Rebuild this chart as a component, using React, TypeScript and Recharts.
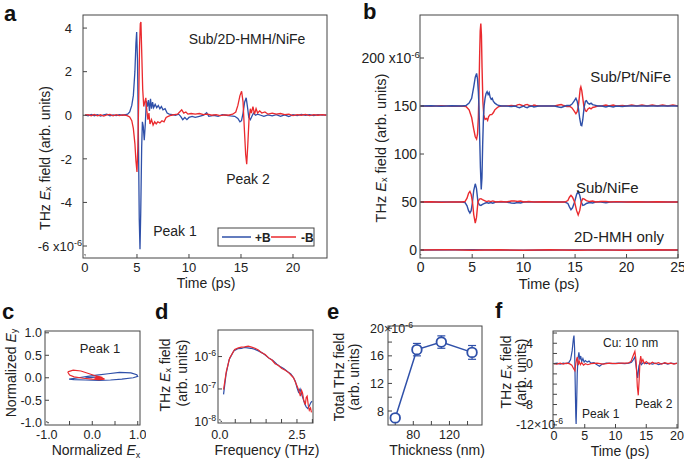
import React from "react";
import { LineChart, Line, XAxis, YAxis, ErrorBar } from "recharts";

const FONT = "'Liberation Sans', Arial, Helvetica, sans-serif";
const BLUE = "#2f50a9";
const RED = "#ea2a2e";
const INK = "#222";
const AX = "#444";

// ---------- panel a : Sub/2D-HMH/NiFe, [time ps, field 1e-6] ----------
const aBlue = [
  [0, 0.02], [0.3, -0.03], [0.6, 0.04], [0.9, -0.02], [1.2, 0.03], [1.5, -0.04], [1.8, 0.02], [2.1, 0.05],
  [2.4, -0.03], [2.7, 0.02], [3.0, -0.02], [3.3, 0.03], [3.6, 0], [3.9, 0.03], [4.1, 0.05], [4.3, 0.15],
  [4.5, 0.45], [4.65, 0.9], [4.8, 2.0], [4.9, 3.3], [4.97, 3.82], [5.05, 2.5], [5.15, -1.5], [5.22, -4.8],
  [5.29, -6.15], [5.36, -4.5], [5.45, -1.5], [5.52, -0.3], [5.6, -0.5], [5.7, -1.15], [5.8, -0.4], [5.9, 0.65],
  [6.0, 0.4], [6.1, 0.7], [6.2, 0.2], [6.3, 0.75], [6.4, 0.3], [6.5, 0.6], [6.6, 0.35], [6.75, 0.5],
  [6.9, 0.35], [7.05, 0.45], [7.2, 0.3], [7.35, 0.4], [7.5, 0.25], [7.7, 0.3], [7.9, 0.1], [8.1, 0.05],
  [8.4, 0.03], [8.7, 0], [9.0, 0.05], [9.2, -0.05], [9.4, -0.2], [9.6, -0.1], [9.8, -0.2], [10.0, -0.1],
  [10.3, -0.05], [10.6, -0.1], [11.0, -0.05], [11.4, 0], [11.7, 0.12], [11.9, -0.05], [12.4, 0], [12.8, -0.05],
  [13.2, 0.03], [13.6, 0], [14.0, -0.03], [14.4, -0.05], [14.7, -0.15], [14.9, -0.3], [15.05, -0.25], [15.2, 0.1],
  [15.35, 0.6], [15.5, 0.8], [15.62, 0.4], [15.75, -0.1], [15.9, -0.2], [16.05, -0.05], [16.2, 0.1], [16.4, 0],
  [16.6, 0.05], [16.9, 0], [17.2, -0.05], [17.6, 0.02], [18.0, -0.03], [18.4, 0.03], [18.8, -0.05], [19.2, 0.02],
  [19.6, -0.06], [20.0, 0.03], [20.4, -0.02], [20.8, 0.04], [21.2, 0], [21.6, 0.03], [22.0, -0.02], [22.4, 0.03],
  [22.8, 0.01], [23.2, 0.02],
];
const aRed = [
  [0, 0], [0.3, 0.03], [0.6, -0.02], [0.9, 0.04], [1.2, -0.03], [1.5, 0.02], [1.8, -0.04], [2.1, 0.02],
  [2.4, 0.04], [2.7, -0.03], [3.0, 0.03], [3.3, -0.02], [3.6, 0.02], [3.9, 0], [4.1, -0.03], [4.3, -0.08],
  [4.5, -0.25], [4.65, -0.6], [4.8, -1.3], [4.9, -2.1], [5.0, -2.6], [5.08, -1.5], [5.17, 0.8], [5.25, 3.2],
  [5.32, 4.2], [5.38, 4.28], [5.45, 3.0], [5.55, 1.2], [5.65, 0.4], [5.75, 0.6], [5.85, 0.8], [5.95, 0.2],
  [6.05, -0.2], [6.15, 0.1], [6.25, -0.4], [6.4, -0.2], [6.55, -0.45], [6.7, -0.3], [6.85, -0.4], [7.0, -0.3],
  [7.2, -0.35], [7.4, -0.25], [7.6, -0.3], [7.8, -0.1], [8.0, -0.05], [8.3, 0], [8.6, 0.03], [8.9, 0.05],
  [9.1, 0.15], [9.3, 0.25], [9.5, 0.1], [9.7, 0.15], [9.9, 0.05], [10.2, 0.08], [10.6, 0.05], [11.0, 0.08],
  [11.4, 0.03], [11.8, 0.05], [12.2, 0], [12.6, 0.03], [13.0, -0.02], [13.4, 0.02], [13.8, 0], [14.2, 0.05],
  [14.5, 0.15], [14.7, 0.45], [14.9, 0.9], [15.06, 1.1], [15.2, 0.6], [15.32, -0.6], [15.45, -1.8], [15.55, -2.25],
  [15.65, -1.4], [15.77, -0.2], [15.9, 0.3], [16.0, 0.1], [16.15, 0.4], [16.3, 0.05], [16.45, 0.3], [16.6, 0.1],
  [16.8, 0.2], [17.0, 0.1], [17.3, 0.15], [17.6, 0.05], [18.0, 0.1], [18.4, 0.05], [18.8, 0.08], [19.2, 0.03],
  [19.6, 0.05], [20.0, -0.02], [20.4, 0.03], [20.8, 0], [21.2, 0.04], [21.6, -0.02], [22.0, 0.03], [22.4, 0],
  [22.8, 0.03], [23.2, 0],
];

// ---------- panel b : offset traces ----------
const bPtBlue = [
  [0, 150], [1, 150.3], [2, 149.8], [3, 150.2], [4, 150], [4.4, 150.5], [4.7, 153], [4.95, 158], [5.15, 170],
  [5.3, 180], [5.43, 184], [5.52, 178], [5.6, 165], [5.66, 150], [5.72, 122], [5.8, 86], [5.88, 63], [5.95, 75],
  [6.02, 110], [6.1, 140], [6.17, 151], [6.25, 158], [6.35, 163], [6.45, 165], [6.55, 162], [6.65, 164],
  [6.75, 159], [6.85, 157], [6.95, 158], [7.05, 155], [7.2, 153], [7.4, 151.5], [7.6, 150.5], [7.85, 150],
  [8.3, 150], [8.8, 149.5], [9.2, 150], [9.4, 148.8], [9.6, 148.3], [9.8, 149.2], [10.0, 150], [10.15, 148.8],
  [10.35, 148.3], [10.55, 149.5], [10.8, 150], [11.0, 149], [11.2, 149.5], [11.5, 150], [12.2, 150], [13.0, 150],
  [13.4, 149], [13.65, 148.5], [13.9, 149.5], [14.2, 150.5], [14.5, 150.5], [14.7, 152], [14.9, 155], [15.08, 158],
  [15.2, 155], [15.32, 148], [15.45, 137], [15.57, 130], [15.65, 129.5], [15.75, 136], [15.87, 148], [16.0, 155],
  [16.1, 155.5], [16.25, 153], [16.4, 152], [16.55, 153], [16.7, 151.5], [16.9, 151], [17.2, 150], [17.6, 150],
  [18.0, 149], [18.3, 150], [18.7, 149], [19.0, 150], [19.6, 149.5], [20.0, 150], [21, 150], [22, 150],
  [23, 150], [24, 150], [25, 150],
];
const bPtRed = [
  [0, 150], [1, 149.8], [2, 150.2], [3, 149.8], [4, 150], [4.4, 149.5], [4.7, 146], [4.95, 138], [5.15, 126],
  [5.3, 118], [5.43, 115.6], [5.52, 121], [5.6, 138], [5.66, 165], [5.72, 200], [5.78, 228], [5.84, 236],
  [5.9, 224], [5.96, 190], [6.04, 155], [6.12, 141], [6.25, 136], [6.4, 137], [6.5, 135], [6.6, 139],
  [6.75, 141], [6.9, 141], [7.05, 143], [7.2, 146], [7.4, 148], [7.6, 149.5], [7.85, 150], [8.3, 150],
  [8.8, 150.5], [9.2, 150], [9.4, 151.2], [9.6, 151.7], [9.8, 150.8], [10.0, 150], [10.15, 151.2], [10.35, 151.7],
  [10.55, 150.5], [10.8, 150], [11.0, 151], [11.2, 150.5], [11.5, 150], [12.2, 150], [13.0, 150], [13.4, 151],
  [13.65, 151.5], [13.9, 150.5], [14.2, 149.5], [14.5, 149.5], [14.7, 148], [14.9, 145], [15.08, 142], [15.2, 144],
  [15.32, 150], [15.42, 160], [15.5, 168], [15.56, 170], [15.65, 166], [15.75, 158], [15.85, 150], [16.0, 145],
  [16.1, 144.5], [16.25, 147], [16.4, 148], [16.55, 147], [16.7, 148.5], [16.9, 149], [17.2, 150], [17.6, 150],
  [18.0, 151], [18.3, 150], [18.7, 151], [19.0, 150], [19.6, 150.5], [20.0, 150], [20.5, 151], [21, 150],
  [21.5, 151], [22, 150], [22.5, 151], [23, 150], [23.5, 151], [24, 150], [24.5, 151], [25, 150],
];
const bNiBlue = [
  [0, 50], [2, 50], [4, 50], [4.3, 49.5], [4.5, 46], [4.65, 41], [4.78, 38.5], [4.9, 41], [5.03, 50],
  [5.15, 62], [5.3, 69], [5.42, 64], [5.56, 50], [5.7, 47], [5.85, 46.5], [6.0, 47.5], [6.2, 48.5], [6.4, 49.5],
  [6.6, 48.8], [6.8, 49.5], [7.0, 48.8], [7.3, 50], [7.8, 50], [8.3, 50], [8.8, 49], [9.1, 48.8], [9.4, 49.5],
  [9.7, 49], [10.0, 50], [11, 50], [12, 50], [13, 50], [14, 50], [14.3, 48.5], [14.45, 45], [14.6, 42],
  [14.75, 44], [14.95, 50], [15.15, 58], [15.3, 61], [15.45, 57], [15.6, 50], [15.75, 46.5], [15.9, 47],
  [16.1, 48.5], [16.4, 49.5], [16.7, 49], [17, 50], [17.5, 50], [18.0, 49.3], [18.4, 50], [19, 50], [20, 50],
  [21, 50], [22, 50], [23, 50], [24, 50], [25, 50],
];
const bNiRed = [
  [0, 50], [1, 50.3], [2, 49.8], [3, 50.2], [4, 50], [4.3, 50.5], [4.5, 54], [4.65, 59], [4.78, 61], [4.9, 58],
  [5.03, 50], [5.15, 37], [5.3, 28], [5.42, 34], [5.56, 50], [5.7, 53], [5.85, 53.5], [6.0, 52.5], [6.2, 51.5],
  [6.4, 50.5], [6.6, 51.2], [6.8, 50.5], [7.0, 51.2], [7.3, 50], [7.8, 50.5], [8.3, 50], [8.8, 51], [9.1, 51.2],
  [9.4, 50.5], [9.7, 51], [10.0, 50], [10.5, 50.5], [11, 50], [12, 50.3], [13, 50], [14, 50], [14.3, 51.5],
  [14.45, 55], [14.6, 57], [14.75, 55], [14.95, 50], [15.15, 41], [15.3, 36.5], [15.45, 41], [15.6, 50],
  [15.75, 53.5], [15.9, 53], [16.1, 51.5], [16.4, 50.5], [16.7, 51], [17, 50], [17.5, 50.5], [18.0, 50.7],
  [18.4, 50], [19, 50.4], [20, 50], [21, 50.3], [22, 50], [23, 50.3], [24, 50], [25, 50],
];
const b2dBlue = [[0, 0], [5, 0.3], [10, -0.2], [15, 0.2], [20, -0.1], [25, 0]];
const b2dRed = [
  [0, 0], [2.5, 0.4], [5, -0.3], [7.5, 0.3], [10, -0.2], [12.5, 0.3], [15, -0.3], [17.5, 0.2], [20, -0.2],
  [22.5, 0.3], [25, 0],
];

// ---------- panel c : polarisation trajectories, [Ex, Ey] ----------
const cBlue = [
  [-0.51, -0.03], [-0.3, 0.0], [-0.1, 0.03], [0.1, 0.06], [0.35, 0.09], [0.6, 0.12], [0.85, 0.11], [0.98, 0.07],
  [1.0, 0.03], [0.9, 0.0], [0.65, -0.03], [0.4, -0.05], [0.15, -0.06], [-0.15, -0.05], [-0.4, -0.04], [-0.51, -0.03],
];
const cBlueInner = [[-0.15, 0.0], [0.0, 0.01], [0.12, 0.02]];
const cRed = [
  [-0.54, 0.13], [-0.42, 0.17], [-0.25, 0.15], [-0.1, 0.1], [0.05, 0.05], [0.16, 0.02], [0.27, -0.03], [0.15, -0.04],
  [0.0, -0.03], [-0.2, -0.01], [-0.4, 0.02], [-0.5, 0.06], [-0.54, 0.13],
];
const cRedBlob = [[0.05, 0.0], [0.2, -0.02], [0.08, 0.02], [0.22, 0.0], [0.1, -0.01]];

// ---------- panel d : spectra, [THz, amplitude] ----------
const dRed = [
  [0.12, 9.5e-8], [0.21, 3.5e-7], [0.32, 9.1e-7], [0.48, 1.66e-6], [0.6, 1.85e-6], [0.7, 1.95e-6], [0.8, 2.0e-6],
  [0.92, 2.1e-6], [1.03, 1.95e-6], [1.14, 1.8e-6], [1.25, 1.6e-6], [1.36, 1.3e-6], [1.47, 1.15e-6], [1.58, 9.1e-7],
  [1.69, 7.8e-7], [1.79, 6.0e-7], [1.9, 5.3e-7], [2.01, 4.3e-7], [2.12, 3.8e-7], [2.23, 3.2e-7], [2.32, 2.6e-7],
  [2.39, 2.2e-7], [2.45, 1.6e-7], [2.5, 1.25e-7], [2.56, 9.0e-8], [2.61, 6.0e-8], [2.65, 9.0e-8], [2.68, 7.6e-8],
  [2.72, 4.5e-8], [2.77, 3.3e-8], [2.8, 5.5e-8], [2.83, 6.0e-8], [2.87, 3.0e-8], [2.9, 2.2e-8], [2.94, 2.6e-8],
  [2.97, 1.9e-8],
];
const dBlue = [
  [0.12, 6.8e-8], [0.2, 2.8e-7], [0.3, 8.0e-7], [0.45, 1.5e-6], [0.58, 1.75e-6], [0.7, 1.8e-6], [0.8, 1.9e-6],
  [0.9, 1.85e-6], [1.0, 1.8e-6], [1.12, 1.7e-6], [1.25, 1.5e-6], [1.37, 1.3e-6], [1.48, 1.1e-6], [1.6, 8.8e-7],
  [1.72, 7.5e-7], [1.85, 5.8e-7], [1.97, 4.8e-7], [2.08, 4.2e-7], [2.2, 3.4e-7], [2.3, 2.9e-7], [2.38, 2.3e-7],
  [2.45, 1.7e-7], [2.5, 1.1e-7], [2.55, 8.0e-8], [2.6, 1.0e-7], [2.65, 7.0e-8], [2.7, 5.0e-8], [2.75, 3.5e-8],
  [2.8, 2.8e-8], [2.85, 2.5e-8], [2.9, 3.0e-8], [2.95, 3.8e-8], [2.99, 4.2e-8],
];

// ---------- panel e : total field vs thickness ----------
const eThick = [60, 84, 111, 145];
const eField = [7.0, 16.9, 18.0, 16.5];
const eErr = [0.3, 0.9, 0.9, 1.0];

// ---------- panel f : Cu 10 nm ----------
const fBlue = [
  [0, 0], [0.5, 0.1], [1.0, -0.1], [1.5, 0.1], [2.0, 0], [2.4, 0.2], [2.7, 0.8], [2.95, 2.5], [3.15, 4.8],
  [3.25, 5.5], [3.35, 3.0], [3.45, -4], [3.55, -10.5], [3.6, -11.8], [3.68, -8], [3.78, -2], [3.9, 1.0],
  [4.05, 2.2], [4.2, 0.8], [4.35, 1.5], [4.5, 0.4], [4.7, 1.0], [4.9, 0.3], [5.1, 0.6], [5.4, 0.3], [5.7, 0.5],
  [6.0, 0.1], [6.5, 0.2], [7.0, -0.2], [7.4, -0.5], [7.8, -0.1], [8.5, 0.1], [9.5, 0], [10.5, 0.1], [11.5, 0],
  [12.2, 0.1], [12.6, 0.3], [12.9, 0.8], [13.15, 1.3], [13.4, -1.0], [13.6, -2.8], [13.8, -0.5], [14.0, 0.3],
  [14.2, -0.2], [14.5, 0.2], [15, 0], [15.5, 0.1], [16, -0.1], [16.5, 0.1], [17, -0.2], [17.5, 0], [18, 0.1],
  [18.5, -0.1], [19, 0.1], [19.5, 0], [20, 0.05],
];
const fRed = [
  [0, 0], [0.5, -0.1], [1, 0.1], [1.5, -0.1], [2.0, 0.1], [2.5, 0], [2.9, -0.3], [3.2, -1.0], [3.4, -1.4],
  [3.55, 0], [3.7, 1.0], [3.8, 1.3], [3.95, -0.3], [4.1, 0.5], [4.3, -0.2], [4.5, 0.2], [4.8, -0.3], [5.1, 0],
  [5.5, -0.2], [6, 0], [7, 0.1], [8, -0.1], [9, 0.1], [10, 0], [11, 0.1], [12, 0.1], [12.5, 0.4], [12.85, 1.5],
  [13.15, 2.4], [13.35, 0.5], [13.55, -4.5], [13.7, -6.2], [13.85, -3], [13.98, 0.5], [14.1, 1.5], [14.25, 0.3],
  [14.45, 0.8], [14.7, 0], [15, 0.4], [15.5, -0.1], [16, 0.3], [16.5, 0], [17, 0.2], [17.5, -0.1], [18, 0.2],
  [18.5, 0], [19, 0.1], [19.5, -0.1], [20, 0.1],
];

// ---------- ticks ----------
type Lab = { v: number; t: string; sfx?: string; sup?: string };
const aXLabels: Lab[] = [0, 5, 10, 15, 20].map((v) => ({ v, t: String(v) }));
const aYLabels: Lab[] = [
  { v: 4, t: "4" }, { v: 2, t: "2" }, { v: 0, t: "0" }, { v: -2, t: "-2" }, { v: -4, t: "-4" },
  { v: -6, t: "-6", sfx: " x10", sup: "-6" },
];
const bXLabels: Lab[] = [0, 5, 10, 15, 20, 25].map((v) => ({ v, t: String(v) }));
const bYLabels: Lab[] = [
  { v: 200, t: "200", sfx: " x10", sup: "-6" }, { v: 150, t: "150" }, { v: 100, t: "100" }, { v: 50, t: "50" },
  { v: 0, t: "0" },
];
const cXLabels: Lab[] = [{ v: -1, t: "-1.0" }, { v: 0, t: "0.0" }, { v: 1, t: "1.0" }];
const cYLabels: Lab[] = [
  { v: 1, t: "1.0" }, { v: 0.5, t: "0.5" }, { v: 0, t: "0.0" }, { v: -0.5, t: "-0.5" }, { v: -1, t: "-1.0" },
];
const dXLabels: Lab[] = [{ v: 0, t: "0.0" }, { v: 2.5, t: "2.5" }];
const dYLabels: Lab[] = [
  { v: 1e-6, t: "10", sup: "-6" }, { v: 1e-7, t: "10", sup: "-7" }, { v: 1e-8, t: "10", sup: "-8" },
];
const eXLabels: Lab[] = [{ v: 80, t: "80" }, { v: 120, t: "120" }];
const eYLabels: Lab[] = [
  { v: 20, t: "20", sfx: " \u00d710", sup: "-6" }, { v: 16, t: "16" }, { v: 12, t: "12" }, { v: 8, t: "8" },
];
const fXLabels: Lab[] = [0, 5, 10, 15, 20].map((v) => ({ v, t: String(v) }));
const fYLabels: Lab[] = [
  { v: 4, t: "4" }, { v: 0, t: "0" }, { v: -4, t: "-4" }, { v: -8, t: "-8" },
  { v: -12, t: "-12", sfx: "\u00d710", sup: "-6" },
];

const xy = (pts: number[][]) => pts.map(([x, y]) => ({ x, y }));

const PL = 70;
const PT = 12;
const PR = 6;
const PB = 34;
const TL = 4;

const same = (a: number, b: number) => Math.abs(a - b) <= 1e-6 * Math.max(Math.abs(a), Math.abs(b)) + 1e-12;

function bottomTick(labels: Lab[], base: number, fs: number) {
  return (p: any) => {
    const lab = labels.find((l) => same(l.v, p.payload.value));
    if (!lab) return <g />;
    return (
      <text x={p.x} y={base} textAnchor="middle" fontSize={fs} fill={INK} fontFamily={FONT}>
        {lab.t}
      </text>
    );
  };
}

// numbers are right-aligned at `right`; a label with an exponent suffix is either appended after
// its number ("append") or right-aligned as a whole at `sfxRight`
function leftTick(labels: Lab[], right: number, sfxRight: number, fs: number, mode: "whole" | "append") {
  return (p: any) => {
    const lab = labels.find((l) => same(l.v, p.payload.value));
    if (!lab) return <g />;
    const sup = lab.sup ? (
      <tspan dy={-5} fontSize={fs * 0.7}>
        {lab.sup}
      </tspan>
    ) : null;
    if (mode === "append" && lab.sfx) {
      return (
        <g fontSize={fs} fill={INK} fontFamily={FONT}>
          <text x={right} y={p.y} dy="0.36em" textAnchor="end">{lab.t}</text>
          <text x={right} y={p.y} dy="0.36em" textAnchor="start">{lab.sfx}{sup}</text>
        </g>
      );
    }
    return (
      <text
        x={lab.sfx ? sfxRight : right} y={p.y} dy="0.36em" textAnchor="end" fontSize={fs} fill={INK}
        fontFamily={FONT}
      >
        {lab.t}
        {lab.sfx}
        {sup}
      </text>
    );
  };
}

type PanelProps = {
  box: { x: number; y: number; w: number; h: number };
  xDomain: number[];
  yDomain: number[];
  xTicks: number[];
  yTicks: number[];
  xLabels: Lab[];
  yLabels: Lab[];
  xBase: number;
  yRight: number;
  sfxRight?: number;
  fs: number;
  yMode?: "whole" | "append";
  yLog?: boolean;
  children: React.ReactNode;
};

function Panel(p: PanelProps) {
  const ox = p.box.x - PL;
  const oy = p.box.y - PT;
  const corner = [{ x: p.xDomain[0], y: p.yDomain[0] }];
  return (
    <div style={{ position: "absolute", left: ox, top: oy }}>
      <LineChart
        width={p.box.w + PL + PR}
        height={p.box.h + PT + PB}
        margin={{ top: PT, right: PR, bottom: 0, left: 0 }}
      >
        <XAxis
          type="number" dataKey="x" domain={p.xDomain} ticks={p.xTicks} interval={0} allowDataOverflow
          height={PB} tickSize={-TL} stroke={AX} axisLine={false}
          tick={bottomTick(p.xLabels, p.xBase - oy, p.fs)}
        />
        <XAxis
          xAxisId="top" orientation="top" type="number" dataKey="x" domain={p.xDomain} ticks={p.xTicks}
          interval={0} allowDataOverflow height={0} tickSize={-TL} stroke={AX} axisLine={false} tick={false}
        />
        <YAxis
          type="number" scale={p.yLog ? "log" : "auto"} domain={p.yDomain} ticks={p.yTicks} interval={0}
          allowDataOverflow width={PL} tickSize={-TL} stroke={AX} axisLine={false}
          tick={leftTick(p.yLabels, p.yRight - ox, (p.sfxRight ?? p.yRight) - ox, p.fs, p.yMode || "whole")}
        />
        <YAxis
          yAxisId="right" orientation="right" type="number" scale={p.yLog ? "log" : "auto"} domain={p.yDomain}
          ticks={p.yTicks} interval={0} allowDataOverflow width={0} tickSize={-TL} stroke={AX}
          axisLine={false} tick={false}
        />
        {/* invisible series so that the top and right axes draw their ticks */}
        <Line
          xAxisId="top" yAxisId="right" data={corner} dataKey="y" stroke="none" dot={false}
          isAnimationActive={false}
        />
        {p.children}
      </LineChart>
    </div>
  );
}

function VText({ x, y, size = 14, children }: { x: number; y: number; size?: number; children: React.ReactNode }) {
  return (
    <text
      transform={`translate(${x},${y}) rotate(-90)`}
      textAnchor="middle"
      dominantBaseline="central"
      fontSize={size}
      fill={INK}
    >
      {children}
    </text>
  );
}

const Ex = ({ sub }: { sub: string }) => (
  <>
    <tspan fontStyle="italic">E</tspan>
    <tspan fontSize={9} dy={3}>{sub}</tspan>
    <tspan dy={-3}> </tspan>
  </>
);

const frames = [
  { x: 83, y: 15, w: 244, h: 243 },
  { x: 420, y: 15, w: 258, h: 243 },
  { x: 45, y: 331, w: 95, h: 94 },
  { x: 218, y: 330, w: 95, h: 93 },
  { x: 388, y: 326, w: 94, h: 99 },
  { x: 553, y: 331, w: 125, h: 97 },
];

export default function App() {
  const line = (data: number[][], color: string, w = 1.3) => (
    <Line
      data={xy(data)}
      dataKey="y"
      type="linear"
      stroke={color}
      strokeWidth={w}
      dot={false}
      isAnimationActive={false}
    />
  );
  const eData = eThick.map((x, i) => ({ x, y: eField[i], e: eErr[i] }));

  return (
    <div
      style={{
        position: "absolute", left: 0, top: 0, width: 685, height: 461, overflow: "hidden",
        background: "#fff", fontFamily: FONT,
      }}
    >
      <Panel
        box={frames[0]} xDomain={[-0.19, 23.27]} yDomain={[-6.55, 4.6]}
        xTicks={[0, 5, 10, 15, 20]} yTicks={[-6, -4, -2, 0, 2, 4]} xLabels={aXLabels} yLabels={aYLabels}
        xBase={272} yRight={72} sfxRight={82} fs={13}
      >
        {line(aBlue, BLUE, 1.3)}
        {line(aRed, RED, 1.3)}
      </Panel>

      <Panel
        box={frames[1]} xDomain={[-0.07, 25]} yDomain={[-8.3, 244.8]}
        xTicks={[0, 5, 10, 15, 20, 25]} yTicks={[0, 50, 100, 150, 200]} xLabels={bXLabels} yLabels={bYLabels}
        xBase={272} yRight={417} sfxRight={420} fs={14}
      >
        {line(bNiBlue, BLUE, 1.4)}
        {line(bNiRed, RED, 1.4)}
        {line(b2dBlue, BLUE, 1.4)}
        {line(b2dRed, RED, 1.4)}
        {line(bPtRed, RED, 1.4)}
        {line(bPtBlue, BLUE, 1.4)}
      </Panel>

      <Panel
        box={frames[2]} xDomain={[-1.04, 1.05]} yDomain={[-1.05, 1.04]}
        xTicks={[-1, -0.5, 0, 0.5, 1]} yTicks={[-1, -0.5, 0, 0.5, 1]} xLabels={cXLabels} yLabels={cYLabels}
        xBase={439} yRight={42} fs={12.5}
      >
        {line(cBlue, BLUE, 1.2)}
        {line(cBlueInner, BLUE, 1.2)}
        {line(cRed, RED, 1.2)}
        {line(cRedBlob, RED, 2)}
      </Panel>

      <Panel
        box={frames[3]} xDomain={[-0.06, 3.02]} yDomain={[8.9e-9, 6.6e-6]}
        xTicks={[0, 0.5, 1, 1.5, 2, 2.5, 3]} yTicks={[1e-8, 1e-7, 1e-6]} xLabels={dXLabels} yLabels={dYLabels}
        xBase={439} yRight={216} fs={12.5} yLog
      >
        {line(dBlue, BLUE, 1.2)}
        {line(dRed, RED, 1.2)}
      </Panel>

      <Panel
        box={frames[4]} xDomain={[52, 156]} yDomain={[5.97, 20.33]}
        xTicks={[60, 80, 100, 120, 140]} yTicks={[8, 10, 12, 14, 16, 18, 20]} xLabels={eXLabels} yLabels={eYLabels}
        xBase={439} yRight={384} fs={12.5} yMode="append"
      >
        <Line
          data={eData} dataKey="y" type="linear" stroke={BLUE} strokeWidth={1.5} isAnimationActive={false}
          dot={{ r: 4.8, stroke: BLUE, strokeWidth: 1.8, fill: "#fff" }}
        >
          <ErrorBar dataKey="e" width={4} stroke={BLUE} strokeWidth={1.2} direction="y" />
        </Line>
      </Panel>

      <Panel
        box={frames[5]} xDomain={[-0.16, 20.16]} yDomain={[-12.6, 6.4]}
        xTicks={[0, 5, 10, 15, 20]} yTicks={[-12, -10, -8, -6, -4, -2, 0, 2, 4, 6]} xLabels={fXLabels}
        yLabels={fYLabels} xBase={440} yRight={533} sfxRight={563} fs={12.5}
      >
        {line(fBlue, BLUE, 1.2)}
        {line(fRed, RED, 1.2)}
      </Panel>

      <svg width={685} height={461} style={{ position: "absolute", left: 0, top: 0 }} fontFamily={FONT}>
        {frames.map((b, i) => (
          <rect key={i} x={b.x} y={b.y} width={b.w} height={b.h} fill="none" stroke={AX} strokeWidth={1} />
        ))}
        <g fontSize={22} fontWeight="bold" fill="#111">
          <text x={4} y={21}>a</text>
          <text x={363} y={19}>b</text>
          <text x={2} y={319}>c</text>
          <text x={155} y={319}>d</text>
          <text x={327} y={319}>e</text>
          <text x={495} y={318}>f</text>
        </g>

        {/* panel a */}
        <VText x={45} y={158}>THz <Ex sub="x" />field (arb. units)</VText>
        <text x={206} y={288} textAnchor="middle" fontSize={14} fill={INK}>Time (ps)</text>
        <text x={247} y={44} textAnchor="middle" fontSize={14} fill={INK}>Sub/2D-HMH/NiFe</text>
        <text x={248} y={184} textAnchor="middle" fontSize={14} fill={INK}>Peak 2</text>
        <text x={175} y={236} textAnchor="middle" fontSize={14} fill={INK}>Peak 1</text>
        <rect x={218} y={228} width={96} height={18} fill="#fff" stroke={AX} strokeWidth={1} />
        <line x1={222} x2={251} y1={237} y2={237} stroke={BLUE} strokeWidth={1.5} />
        <text x={255} y={241.5} fontSize={12} fontWeight="bold" fill={INK}>+B</text>
        <line x1={271} x2={296} y1={237} y2={237} stroke={RED} strokeWidth={1.5} />
        <text x={301} y={241.5} fontSize={12} fontWeight="bold" fill={INK}>-B</text>

        {/* panel b */}
        <VText x={381} y={148} size={14.5}>THz <Ex sub="x" />field (arb. units)</VText>
        <text x={549} y={289} textAnchor="middle" fontSize={14.5} fill={INK}>Time (ps)</text>
        <text x={671} y={82} textAnchor="end" fontSize={15} fill={INK}>Sub/Pt/NiFe</text>
        <text x={576} y={193} fontSize={15} fill={INK}>Sub/NiFe</text>
        <text x={574} y={242} fontSize={15} fill={INK}>2D-HMH only</text>

        {/* panel c */}
        <VText x={11} y={373}>Normalized <Ex sub="y" /></VText>
        <text x={96} y={455} textAnchor="middle" fontSize={14} fill={INK}>
          Normalized <tspan fontStyle="italic">E</tspan><tspan fontSize={9} dy={3}>x</tspan>
        </text>
        <text x={100} y={353} textAnchor="middle" fontSize={13} fill={INK}>Peak 1</text>

        {/* panel d */}
        <VText x={165} y={375}>THz <Ex sub="x" />field</VText>
        <VText x={182} y={373}>(arb. units)</VText>
        <text x={267} y={455} textAnchor="middle" fontSize={14} fill={INK}>Frequency (THz)</text>

        {/* panel e */}
        <VText x={339} y={377}>Total THz field</VText>
        <VText x={354} y={377}>(arb. units)</VText>
        <text x={437} y={455} textAnchor="middle" fontSize={14} fill={INK}>Thickness (nm)</text>

        {/* panel f */}
        <VText x={506} y={372}>THz <Ex sub="x" />field</VText>
        <VText x={521} y={372}>(arb. units)</VText>
        <text x={620} y={456} textAnchor="middle" fontSize={14} fill={INK}>Time (ps)</text>
        <text x={603} y={347} fontSize={12} fill={INK}>Cu: 10 nm</text>
        <text x={582} y={418} fontSize={12} fill={INK}>Peak 1</text>
        <text x={635} y={408} fontSize={12} fill={INK}>Peak 2</text>
      </svg>
    </div>
  );
}
